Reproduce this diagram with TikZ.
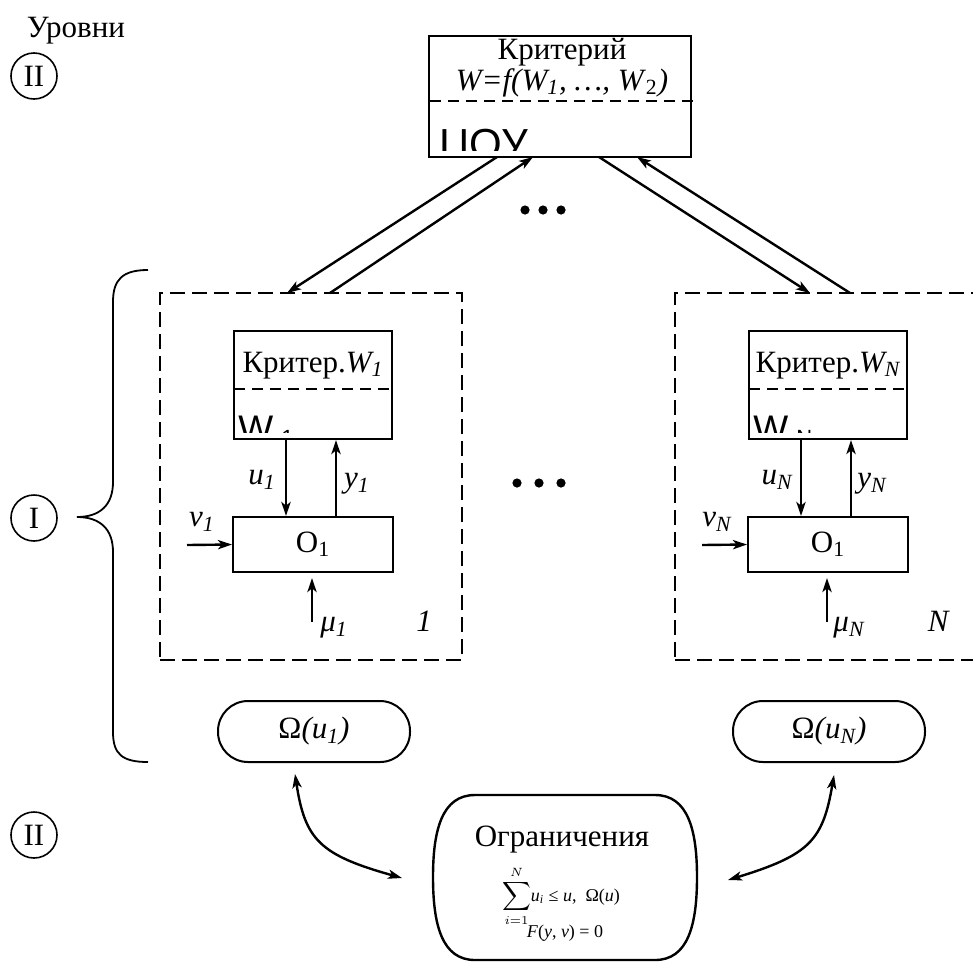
\documentclass[tikz,border=0pt]{standalone}
\usepackage{fontspec}
\setmainfont{Liberation Serif}
\newfontfamily\sansW{Liberation Sans}
\usetikzlibrary{arrows.meta}
\begin{document}
\begin{tikzpicture}[x=0.5pt,y=-0.5pt,
  font=\fontsize{15.5}{18}\selectfont,
  box/.style={draw, line width=1pt, inner sep=0pt},
  dbox/.style={draw, line width=1pt, dash pattern=on 7.5pt off 3.5pt, inner sep=0pt},
  sepline/.style={line width=1pt, dash pattern=on 5.5pt off 3.5pt},
  tip/.tip={Stealth[length=7pt,width=4.6pt,inset=1.8pt]},
  arr/.style={line width=1.2pt, -tip},
  darr/.style={line width=1.2pt, tip-tip},
  lvl/.style={circle, draw, line width=0.8pt, minimum size=23pt, inner sep=0pt},
  lbl/.style={inner sep=0pt}
]
\useasboundingbox (0,0) rectangle (973,964);

% levels
\node[anchor=base] (lev) at (76,37) {Уровни};
\node[lvl] (c2a) at (34,76) {II};
\node[lvl] (c1) at (34,518) {I};
\node[lvl] (c2b) at (34,835) {II};
\draw[line width=0.9pt] (148,270) .. controls (122,270) and (113,280) .. (113,302) -- (113,482)
  .. controls (113,505) and (100,517) .. (77,517)
  .. controls (100,517) and (113,529) .. (113,552) -- (113,732)
  .. controls (113,754) and (122,762) .. (148,762);

% top box
\node[box, minimum width=131pt, minimum height=60.5pt] (top) at (560,96.5) {};
\node[anchor=base, lbl] (krit) at (562,59) {Критерий};
\node[anchor=base, lbl] (wf) at (562,90) {\textit{W=f(W\textsubscript{1}, …, W}\textsubscript{2}\textit{)}};
\draw[sepline] (430,101) -- (698,101);
\begin{scope}
  \clip (430,103) rectangle (690,150);
  \node[anchor=base west, inner sep=0pt, font=\sansW\fontsize{21}{21}\selectfont] (cou) at (439,158) {ЦОУ};
\end{scope}

% dots
\foreach \xx in {525,543,561} \fill (\xx,210) circle (2.3pt);
\foreach \xx in {517,539,561} \fill (\xx,483) circle (2.3pt);

% units
\foreach \dx/\pre/\sub in {0/L/1, 515/R/N} {
\begin{scope}[xshift=\dx*0.5pt, name prefix=\pre-]
  \node[dbox, minimum width=151pt, minimum height=183.5pt] (unit) at (311,476.5) {};
  \node[box, minimum width=79pt, minimum height=54pt] (crit) at (313,385) {};
  \node[anchor=base] (critt) at (313,372) {Критер.\textit{W\textsubscript{\sub}}};
  \draw[sepline] (234,389) -- (392,389);
  \begin{scope}
    \clip (234,395) rectangle (392,432);
    \node[anchor=base west, inner sep=0pt, font=\sansW\fontsize{18.5}{18.5}\selectfont] (wsans) at (238,441) {W\hspace{4pt}\raisebox{-2pt}{\fontsize{11}{11}\selectfont\sub}};
  \end{scope}
  \node[box, minimum width=80pt, minimum height=27.5pt] (obj) at (313,544.5) {O\textsubscript{1}};
  \draw[arr] ([xshift=-13.5pt]crit.south) -- ([xshift=-13.5pt]obj.north);
  \draw[arr] ([xshift=11.5pt]obj.north) -- ([xshift=11.5pt]crit.south);
  \coordinate (vin) at (187,545);
  \draw[arr] (vin) -- (obj.west);
  \coordinate (muin) at (312,622);
  \draw[arr] (muin) -- ([shift={(-0.5pt,-2.5pt)}]obj.south);
  \node[lbl] (lu) at (262,480) {\textit{u\textsubscript{\sub}}};
  \node[lbl] (ly) at (357,484) {\textit{y\textsubscript{\sub}}};
  \node[lbl] (lv) at (202,522) {\textit{v\textsubscript{\sub}}};
  \node[lbl] (lmu) at (334,628) {\textit{μ\textsubscript{\sub}}};
  \node[lbl] (lnum) at (424,621) {\textit{\sub}};
  \node[box, rounded corners=15pt, minimum width=96pt, minimum height=30.5pt] (omega) at (314,731.5) {Ω\textit{(u\textsubscript{\sub})}};
\end{scope}
}

% arrows between top box and units
\coordinate (tA) at (497,157); \coordinate (bA) at (287,293);
\coordinate (bB) at (330,293); \coordinate (tB) at (533,157);
\coordinate (tC) at (599,157); \coordinate (bC) at (810,293);
\coordinate (bD) at (850,293); \coordinate (tD) at (637,157);
\draw[arr] (tA) -- (bA);
\draw[arr] (bB) -- (tB);
\draw[arr] (tC) -- (bC);
\draw[arr] (bD) -- (tD);

% constraints box
\draw[line width=1.2pt] (475,795) -- (655,795)
  .. controls (688,795) and (697,830) .. (697,877)
  .. controls (697,925) and (688,960) .. (655,960) -- (475,960)
  .. controls (442,960) and (433,925) .. (433,877)
  .. controls (433,830) and (442,795) .. (475,795) -- cycle;
\node[anchor=base, lbl] (ogr) at (562,846) {Ограничения};
\node[lbl, anchor=base, font=\fontsize{9}{11}\selectfont] (sumf) at (561,901) {$\displaystyle\sum_{i=1}^{N}$\textit{u\textsubscript{i}} ≤ \textit{u},\ \ Ω(\textit{u})};
\node[lbl, anchor=base, font=\fontsize{9}{11}\selectfont] (ff) at (565,937) {\textit{F}(\textit{y}, \textit{v}) = 0};

% arrows to constraints
\coordinate (o1) at (295,774); \coordinate (g1) at (402,878);
\coordinate (o2) at (834,775); \coordinate (g2) at (728,880);
\draw[darr] (o1) .. controls (305,840) and (320,855) .. (g1);
\draw[darr] (o2) .. controls (823,840) and (810,855) .. (g2);
\end{tikzpicture}
\end{document}
